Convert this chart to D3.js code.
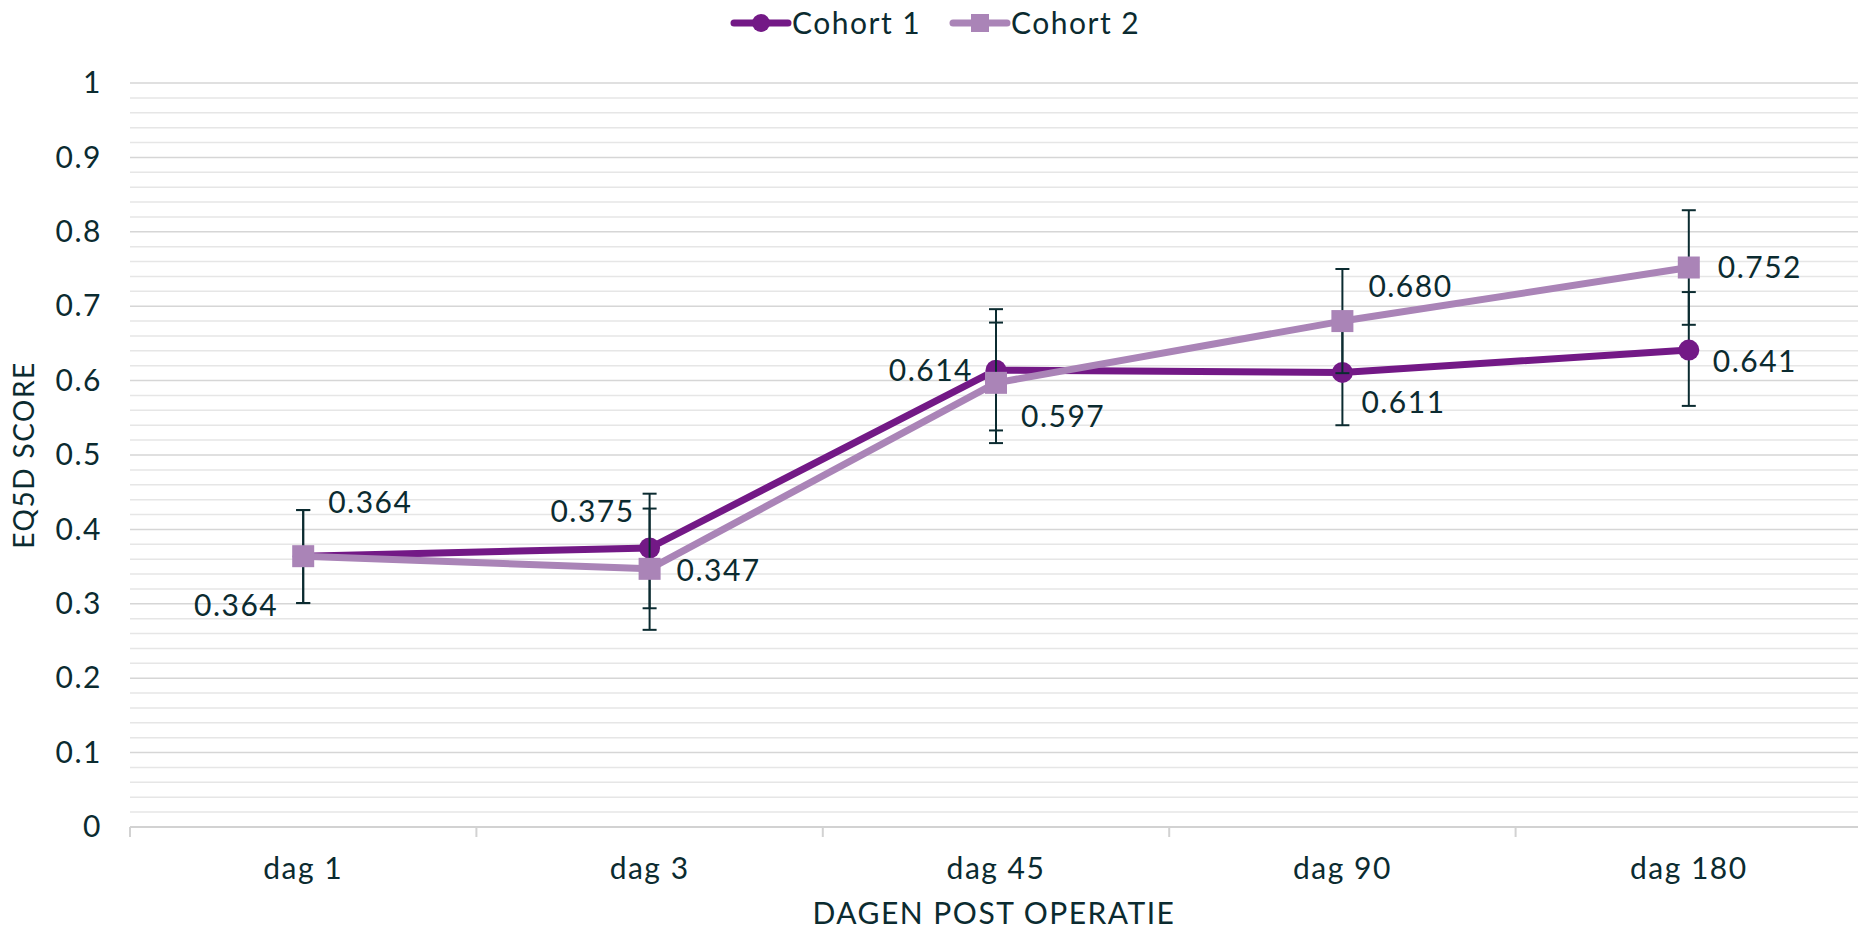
<!DOCTYPE html>
<html>
<head>
<meta charset="utf-8">
<script src="https://cdn.jsdelivr.net/npm/d3@7"></script>
<style>
    body { margin: 0; background: #fff; }
    text { font-family: Lato, "Open Sans", sans-serif; fill: #0b2b30; letter-spacing: 1.5px; }
</style>
</head>
<body>
<svg id="chart"></svg>
<script>
// Data
const categories = ["dag 1", "dag 3", "dag 45", "dag 90", "dag 180"];
const cohort1 = [0.364, 0.375, 0.614, 0.611, 0.641];
const cohort2 = [0.364, 0.347, 0.597, 0.680, 0.752];
const cohort1Upper = [0.426, 0.448, 0.696, 0.682, 0.719];
const cohort1Lower = [0.301, 0.294, 0.533, 0.540, 0.566];
const cohort2Upper = [0.426, 0.428, 0.678, 0.750, 0.829];
const cohort2Lower = [0.301, 0.265, 0.516, 0.610, 0.675];
const yTicks = [0, 0.1, 0.2, 0.3, 0.4, 0.5, 0.6, 0.7, 0.8, 0.9, 1];
const seriesNames = ["Cohort 1", "Cohort 2"];

// label placement (dx, dy to baseline, anchor) - hand placed like the original
const labelPos1 = [[-25, 60, "end"], [-15, -26, "end"], [-23, 11, "end"], [19, 41, "start"], [24, 22, "start"]];
const labelPos2 = [[25, -43, "start"], [27, 12, "start"], [25, 44, "start"], [26, -24, "start"], [29, 10, "start"]];

const width = 1858;
const height = 929;
const margin = { top: 83, right: -4, bottom: 102, left: 130 };
const color1 = "#731986";
const color2 = "#aa84b7";
const ink = "#0b2b30";
const fontSize = "30px";

const svg = d3.select("#chart")
    .attr("width", width)
    .attr("height", height);

const x = d3.scaleBand()
    .domain(categories)
    .range([margin.left, width - margin.right])
    .padding(0);

const y = d3.scaleLinear()
    .domain([0, 1])
    .range([height - margin.bottom, margin.top]);

// minor gridlines every 0.02, major every 0.1
const minor = d3.range(0, 51).map(i => i / 50).filter((d, i) => i % 5 !== 0);
svg.append("g")
    .selectAll("line")
    .data(minor)
    .enter()
    .append("line")
    .attr("x1", margin.left)
    .attr("x2", width)
    .attr("y1", d => y(d))
    .attr("y2", d => y(d))
    .attr("stroke", "#e6e6e6")
    .attr("stroke-width", 1.5);

svg.append("g")
    .selectAll("line")
    .data(yTicks.slice(1))
    .enter()
    .append("line")
    .attr("x1", margin.left)
    .attr("x2", width)
    .attr("y1", d => y(d))
    .attr("y2", d => y(d))
    .attr("stroke", "#d6d6d6")
    .attr("stroke-width", 1.5);

// y axis labels
const yAxis = svg.append("g")
    .attr("transform", `translate(${margin.left - 28},0)`)
    .call(d3.axisLeft(y).tickValues(yTicks).tickSize(0).tickPadding(0).tickFormat(d3.format("")));
yAxis.select(".domain").remove();
yAxis.selectAll("text")
    .style("font-size", fontSize)
    .attr("fill", ink);

// x axis
const xAxis = svg.append("g")
    .attr("transform", `translate(0,${y(0)})`)
    .call(d3.axisBottom(x).tickSize(0).tickPadding(31));
xAxis.select(".domain").remove();
xAxis.selectAll("text")
    .style("font-size", fontSize)
    .attr("fill", ink);

svg.append("line")
    .attr("x1", margin.left)
    .attr("x2", width)
    .attr("y1", y(0))
    .attr("y2", y(0))
    .attr("stroke", "#d2d2d2")
    .attr("stroke-width", 2);

svg.append("g")
    .selectAll("line")
    .data(categories)
    .enter()
    .append("line")
    .attr("x1", d => x(d))
    .attr("x2", d => x(d))
    .attr("y1", y(0))
    .attr("y2", y(0) + 10)
    .attr("stroke", "#d2d2d2")
    .attr("stroke-width", 2);

// axis titles
svg.append("text")
    .attr("x", (margin.left + width) / 2)
    .attr("y", 924)
    .attr("text-anchor", "middle")
    .style("font-size", fontSize)
    .text("DAGEN POST OPERATIE");

svg.append("text")
    .attr("transform", `translate(34,${(y(0) + y(1)) / 2}) rotate(-90)`)
    .attr("text-anchor", "middle")
    .style("font-size", "28px")
    .text("EQ5D SCORE");

const cx = d => x(d) + x.bandwidth() / 2;

function errorBars(values, upper, lower) {
    const g = svg.append("g")
        .attr("stroke", ink)
        .attr("stroke-width", 2);
    categories.forEach((c, i) => {
        g.append("line")
            .attr("x1", cx(c)).attr("x2", cx(c))
            .attr("y1", y(upper[i])).attr("y2", y(lower[i]));
        [upper[i], lower[i]].forEach(v => {
            g.append("line")
                .attr("x1", cx(c) - 7).attr("x2", cx(c) + 7)
                .attr("y1", y(v)).attr("y2", y(v));
        });
    });
}

const line = d3.line()
    .x((d, i) => cx(categories[i]))
    .y(d => y(d));

// Cohort 1
errorBars(cohort1, cohort1Upper, cohort1Lower);
svg.append("path")
    .datum(cohort1)
    .attr("d", line)
    .attr("fill", "none")
    .attr("stroke", color1)
    .attr("stroke-width", 7)
    .attr("stroke-linejoin", "round");
svg.append("g")
    .selectAll("circle")
    .data(cohort1)
    .enter()
    .append("circle")
    .attr("cx", (d, i) => cx(categories[i]))
    .attr("cy", d => y(d))
    .attr("r", 10.5)
    .attr("fill", color1);

// Cohort 2
errorBars(cohort2, cohort2Upper, cohort2Lower);
svg.append("path")
    .datum(cohort2)
    .attr("d", line)
    .attr("fill", "none")
    .attr("stroke", color2)
    .attr("stroke-width", 7)
    .attr("stroke-linejoin", "round");
svg.append("g")
    .selectAll("rect")
    .data(cohort2)
    .enter()
    .append("rect")
    .attr("x", (d, i) => cx(categories[i]) - 11)
    .attr("y", d => y(d) - 11)
    .attr("width", 22)
    .attr("height", 22)
    .attr("fill", color2);

// data labels
const fmt = d3.format(".3f");
function dataLabels(values, pos) {
    svg.append("g")
        .selectAll("text")
        .data(values)
        .enter()
        .append("text")
        .attr("x", (d, i) => cx(categories[i]) + pos[i][0])
        .attr("y", (d, i) => y(d) + pos[i][1])
        .attr("text-anchor", (d, i) => pos[i][2])
        .style("font-size", fontSize)
        .text(d => fmt(d));
}
dataLabels(cohort1, labelPos1);
dataLabels(cohort2, labelPos2);

// legend
const legend = svg.append("g").attr("transform", "translate(731,23)");
const items = legend.selectAll("g")
    .data(seriesNames)
    .enter()
    .append("g")
    .attr("transform", (d, i) => `translate(${i * 219},0)`);
items.append("line")
    .attr("x1", 3).attr("x2", 57)
    .attr("stroke", (d, i) => i === 0 ? color1 : color2)
    .attr("stroke-width", 7)
    .attr("stroke-linecap", "round");
items.filter((d, i) => i === 0)
    .append("circle")
    .attr("cx", 30).attr("r", 9)
    .attr("fill", color1);
items.filter((d, i) => i === 1)
    .append("rect")
    .attr("x", 21).attr("y", -9)
    .attr("width", 18).attr("height", 18)
    .attr("fill", color2);
items.append("text")
    .attr("x", 61)
    .attr("y", 10.5)
    .style("font-size", fontSize)
    .text(d => d);
</script>
</body>
</html>
